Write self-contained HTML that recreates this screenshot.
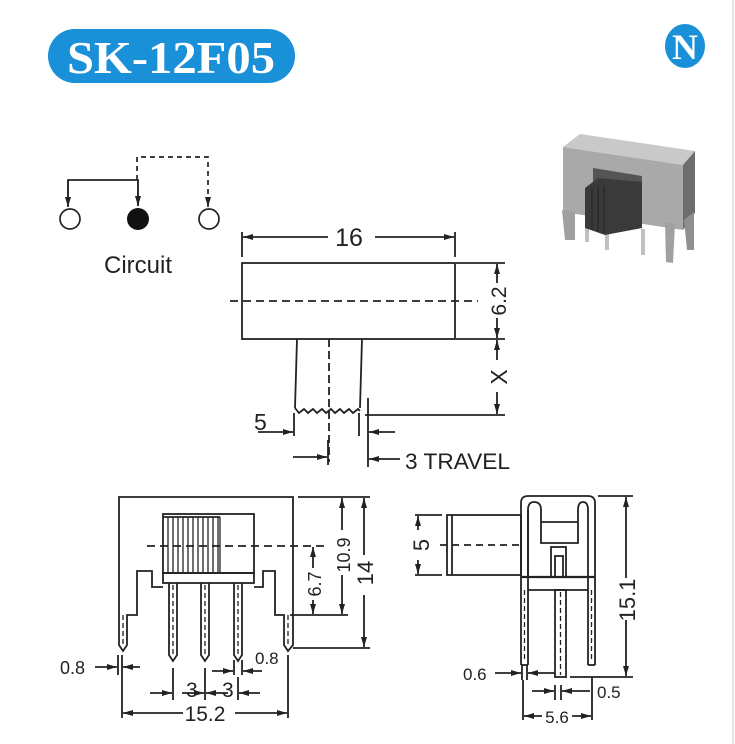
<!DOCTYPE html>
<html><head><meta charset="utf-8"><style>
html,body{margin:0;padding:0;background:#fff;}
svg{display:block;}
text{font-family:"Liberation Sans",Arial,sans-serif;fill:#222;}
</style></head><body>
<svg width="735" height="744" viewBox="0 0 735 744" xmlns="http://www.w3.org/2000/svg">
<defs>
<marker id="a" viewBox="0 0 10 6" refX="10" refY="3" markerWidth="10" markerHeight="6" orient="auto" markerUnits="userSpaceOnUse"><path d="M0,0 L10,3 L0,6 z" fill="#222"/></marker>
</defs>
<line x1="733" y1="0" x2="733" y2="744" stroke="#ccc" stroke-width="1"/>
<!-- title -->
<rect x="48" y="29" width="247" height="54" rx="27" fill="#1a90d9"/>
<text x="171" y="73" text-anchor="middle" textLength="208" lengthAdjust="spacingAndGlyphs" style="font-family:'Liberation Serif',serif;font-weight:bold;font-size:46px;fill:#fff">SK-12F05</text>
<ellipse cx="685" cy="46" rx="20" ry="22" fill="#1a90d9"/>
<text x="685" y="59" text-anchor="middle" style="font-family:'Liberation Serif',serif;font-weight:bold;font-size:36px;fill:#fff">N</text>

<g stroke="#222" stroke-width="1.7" fill="none">
<!-- circuit -->
<polyline points="68,206 68,180 138,180 138,206"/>
<line x1="68" y1="180" x2="68" y2="207" marker-end="url(#a)"/>
<line x1="138" y1="180" x2="138" y2="206" marker-end="url(#a)"/>
<polyline points="137,180 137,157 208,157 208,204" stroke-dasharray="5,4"/>
<line x1="208" y1="198" x2="208" y2="207" marker-end="url(#a)"/>
<circle cx="70" cy="219" r="10"/>
<circle cx="209" cy="219" r="10"/>
</g>
<circle cx="138" cy="219" r="11" fill="#111"/>
<text x="138" y="273" text-anchor="middle" style="font-size:24px">Circuit</text>

<g stroke="#222" stroke-width="1.8" fill="none">
<!-- top view -->
<rect x="242" y="263" width="213" height="76"/>
<line x1="230" y1="301" x2="478" y2="301" stroke-dasharray="8,5"/>
<line x1="242" y1="232" x2="242" y2="257"/>
<line x1="455" y1="232" x2="455" y2="257"/>
<line x1="328" y1="237" x2="243" y2="237" marker-end="url(#a)"/>
<line x1="375" y1="237" x2="454" y2="237" marker-end="url(#a)"/>
<line x1="456" y1="263" x2="505" y2="263"/>
<line x1="456" y1="339" x2="505" y2="339"/>
<line x1="497" y1="283" x2="497" y2="264" marker-end="url(#a)"/>
<line x1="497" y1="318" x2="497" y2="338" marker-end="url(#a)"/>
<line x1="497" y1="360" x2="497" y2="340" marker-end="url(#a)"/>
<line x1="497" y1="392" x2="497" y2="414" marker-end="url(#a)"/>
<line x1="365" y1="415" x2="505" y2="415"/>
<line x1="297" y1="339" x2="295" y2="408"/>
<line x1="362" y1="339" x2="360" y2="408"/>
<polyline points="295,408 299,413 304,409 308,413 313,409 317,413 322,409 326,413 331,409 335,413 340,409 344,413 349,409 353,413 358,409 360,411"/>
<line x1="329" y1="339" x2="329" y2="462" stroke-dasharray="8,4"/>
<line x1="294" y1="413" x2="294" y2="436"/>
<line x1="359" y1="413" x2="359" y2="436"/>
<line x1="258" y1="432" x2="293" y2="432" marker-end="url(#a)"/>
<line x1="328" y1="440" x2="328" y2="465"/>
<line x1="293" y1="457" x2="327" y2="457" marker-end="url(#a)"/>
<line x1="368" y1="398" x2="368" y2="467"/>
<line x1="395" y1="432" x2="369" y2="432" marker-end="url(#a)"/>
<line x1="400" y1="459" x2="369" y2="459" marker-end="url(#a)"/>
</g>
<text x="349" y="246" text-anchor="middle" style="font-size:25px">16</text>
<text transform="translate(506,301) rotate(-90)" text-anchor="middle" style="font-size:21px">6.2</text>
<text transform="translate(507,377) rotate(-90)" text-anchor="middle" style="font-size:23px">X</text>
<text x="254" y="430" style="font-size:23px">5</text>
<text x="405" y="469" textLength="105" lengthAdjust="spacingAndGlyphs" style="font-size:22px">3 TRAVEL</text>

<!-- front view -->
<g stroke="#222" stroke-width="1.8" fill="none">
<polyline points="119,615 119,497 293,497 293,615"/>
<polyline points="163,587 152,587 152,571 137,571 137,615 127,615 127,645 123,651 119,645 119,615"/>
<polyline points="254,587 263,587 263,571 275,571 275,615 284,615 284,645 288,651 293,645 293,615"/>
<rect x="163" y="514" width="91" height="59"/>
<rect x="163" y="573" width="91" height="10"/>
<line x1="163" y1="517" x2="220" y2="517"/>
<g stroke-width="1.3">
<line x1="168" y1="517" x2="168" y2="573"/><line x1="173" y1="517" x2="173" y2="573"/><line x1="178" y1="517" x2="178" y2="573"/><line x1="183" y1="517" x2="183" y2="573"/><line x1="188" y1="517" x2="188" y2="573"/><line x1="193" y1="517" x2="193" y2="573"/><line x1="198" y1="517" x2="198" y2="573"/><line x1="203" y1="517" x2="203" y2="573"/><line x1="208" y1="517" x2="208" y2="573"/><line x1="213" y1="517" x2="213" y2="573"/><line x1="218" y1="517" x2="218" y2="573"/><line x1="220" y1="517" x2="220" y2="573"/>
</g>
<polyline points="169,583 169,655 173,661 177,655 177,583"/>
<polyline points="201,583 201,655 205,661 209,655 209,583"/>
<polyline points="234,583 234,655 238,661 242,655 242,583"/>
<g stroke-dasharray="5,3" stroke-width="1.3">
<line x1="173" y1="585" x2="173" y2="655"/><line x1="205" y1="585" x2="205" y2="655"/><line x1="238" y1="585" x2="238" y2="655"/>
<line x1="123" y1="615" x2="123" y2="645"/><line x1="288" y1="615" x2="288" y2="645"/>
</g>
<line x1="147" y1="546" x2="325" y2="546" stroke-dasharray="8,5"/>
<line x1="298" y1="497" x2="370" y2="497"/>
<line x1="290" y1="615" x2="348" y2="615"/>
<line x1="293" y1="648" x2="370" y2="648"/>
<line x1="342" y1="530" x2="342" y2="498" marker-end="url(#a)"/>
<line x1="342" y1="575" x2="342" y2="614" marker-end="url(#a)"/>
<line x1="364" y1="555" x2="364" y2="498" marker-end="url(#a)"/>
<line x1="364" y1="595" x2="364" y2="647" marker-end="url(#a)"/>
<line x1="313" y1="568" x2="313" y2="547" marker-end="url(#a)"/>
<line x1="313" y1="600" x2="313" y2="614" marker-end="url(#a)"/>
<line x1="118" y1="655" x2="118" y2="675"/><line x1="122" y1="655" x2="122" y2="718"/>
<line x1="95" y1="667" x2="117" y2="667" marker-end="url(#a)"/>
<line x1="140" y1="667" x2="123" y2="667" marker-end="url(#a)"/>
<line x1="234" y1="660" x2="234" y2="675"/><line x1="242" y1="660" x2="242" y2="675"/>
<line x1="212" y1="671" x2="233" y2="671" marker-end="url(#a)"/>
<line x1="262" y1="671" x2="243" y2="671" marker-end="url(#a)"/>
<line x1="173" y1="668" x2="173" y2="700"/><line x1="205" y1="668" x2="205" y2="700"/><line x1="238" y1="677" x2="238" y2="700"/>
<line x1="150" y1="693" x2="172" y2="693" marker-end="url(#a)"/>
<line x1="182" y1="693" x2="204" y2="693" marker-end="url(#a)"/>
<line x1="228" y1="693" x2="206" y2="693" marker-end="url(#a)"/>
<line x1="260" y1="693" x2="239" y2="693" marker-end="url(#a)"/>
<line x1="288" y1="655" x2="288" y2="718"/>
<line x1="183" y1="713" x2="123" y2="713" marker-end="url(#a)"/>
<line x1="235" y1="713" x2="287" y2="713" marker-end="url(#a)"/>
</g>
<text transform="translate(350,555) rotate(-90)" text-anchor="middle" style="font-size:18px">10.9</text>
<text transform="translate(373,573) rotate(-90)" text-anchor="middle" style="font-size:22px">14</text>
<text transform="translate(321,584) rotate(-90)" text-anchor="middle" style="font-size:18px">6.7</text>
<text x="60" y="674" style="font-size:18px">0.8</text>
<text x="255" y="664" style="font-size:17px">0.8</text>
<text x="186" y="697" style="font-size:21px">3</text>
<text x="222" y="697" style="font-size:21px">3</text>
<text x="205" y="721" text-anchor="middle" style="font-size:21px">15.2</text>

<!-- side view -->
<g stroke="#222" stroke-width="1.8" fill="none">
<path d="M521,665 L521,503 Q521,496 528,496 L588,496 Q595,496 595,503 L595,665"/>
<line x1="528" y1="665" x2="528" y2="510"/>
<line x1="588" y1="665" x2="588" y2="510"/>
<path d="M528,577 L528,510 Q528,502 534,502 Q541,502 541,510 L541,543 L578,543 L578,510 Q578,502 583,502 Q588,502 588,510"/>
<line x1="541" y1="522" x2="578" y2="522"/>
<rect x="551" y="547" width="15" height="30"/>
<rect x="555" y="556" width="8" height="21"/>
<line x1="521" y1="577" x2="595" y2="577" stroke-width="2.2"/>
<line x1="528" y1="590" x2="588" y2="590"/>
<line x1="521" y1="665" x2="528" y2="665"/><line x1="588" y1="665" x2="595" y2="665"/>
<rect x="555" y="590" width="11" height="87"/>
<rect x="447" y="515" width="74" height="60"/>
<line x1="452" y1="515" x2="452" y2="575"/>
<line x1="440" y1="545" x2="521" y2="545" stroke-dasharray="7,5"/>
<g stroke-dasharray="5,3" stroke-width="1.3">
<line x1="524.5" y1="590" x2="524.5" y2="660"/><line x1="591.5" y1="590" x2="591.5" y2="660"/><line x1="560.5" y1="592" x2="560.5" y2="675"/>
</g>
<line x1="415" y1="515" x2="442" y2="515"/>
<line x1="415" y1="575" x2="442" y2="575"/>
<line x1="418" y1="530" x2="418" y2="516" marker-end="url(#a)"/>
<line x1="418" y1="560" x2="418" y2="574" marker-end="url(#a)"/>
<line x1="598" y1="496" x2="633" y2="496"/>
<line x1="570" y1="677" x2="633" y2="677"/>
<line x1="626" y1="578" x2="626" y2="497" marker-end="url(#a)"/>
<line x1="626" y1="620" x2="626" y2="676" marker-end="url(#a)"/>
<line x1="522" y1="665" x2="522" y2="680"/><line x1="527" y1="665" x2="527" y2="680"/>
<line x1="495" y1="673" x2="521" y2="673" marker-end="url(#a)"/>
<line x1="555" y1="673" x2="528" y2="673" marker-end="url(#a)"/>
<line x1="555" y1="685" x2="555" y2="700"/><line x1="561" y1="685" x2="561" y2="700"/>
<line x1="532" y1="691" x2="554" y2="691" marker-end="url(#a)"/>
<line x1="590" y1="691" x2="562" y2="691" marker-end="url(#a)"/>
<line x1="523" y1="680" x2="523" y2="720"/><line x1="592" y1="677" x2="592" y2="720"/>
<line x1="542" y1="716" x2="524" y2="716" marker-end="url(#a)"/>
<line x1="572" y1="716" x2="591" y2="716" marker-end="url(#a)"/>
</g>
<text transform="translate(429,545) rotate(-90)" text-anchor="middle" style="font-size:22px">5</text>
<text transform="translate(635,600) rotate(-90)" text-anchor="middle" style="font-size:22px">15.1</text>
<text x="463" y="680" style="font-size:17px">0.6</text>
<text x="597" y="698" style="font-size:17px">0.5</text>
<text x="557" y="723" text-anchor="middle" style="font-size:17px">5.6</text>

<!-- product photo -->
<g>
<polygon points="563,147 580,134 695,151 683,165" fill="#c9c9c9"/>
<polygon points="563,147 683,165 683,230 563,212" fill="#a9a9a9"/>
<polygon points="683,165 695,151 695,213 683,230" fill="#6d6d6d"/>
<polygon points="562,210 575,212 575,240 565,240" fill="#a0a0a0"/>
<polygon points="665,222 675,224 673,263 666,262" fill="#a0a0a0"/>
<polygon points="684,220 694,212 694,250 687,250" fill="#909090"/>
<rect x="585" y="222" width="4" height="20" fill="#c0c0c0"/>
<rect x="605" y="225" width="4" height="25" fill="#c0c0c0"/>
<rect x="641" y="229" width="4" height="26" fill="#c0c0c0"/>
<polygon points="593,168 642,176 642,205 593,198" fill="#555"/>
<polygon points="585,188 598,178 642,182 642,228 605,235 585,228" fill="#3a3a3a"/>
<line x1="592" y1="188" x2="592" y2="230" stroke="#222" stroke-width="1"/>
<line x1="598" y1="186" x2="598" y2="232" stroke="#222" stroke-width="1"/>
<line x1="604" y1="186" x2="604" y2="233" stroke="#222" stroke-width="1"/>
</g>
</svg>
</body></html>
